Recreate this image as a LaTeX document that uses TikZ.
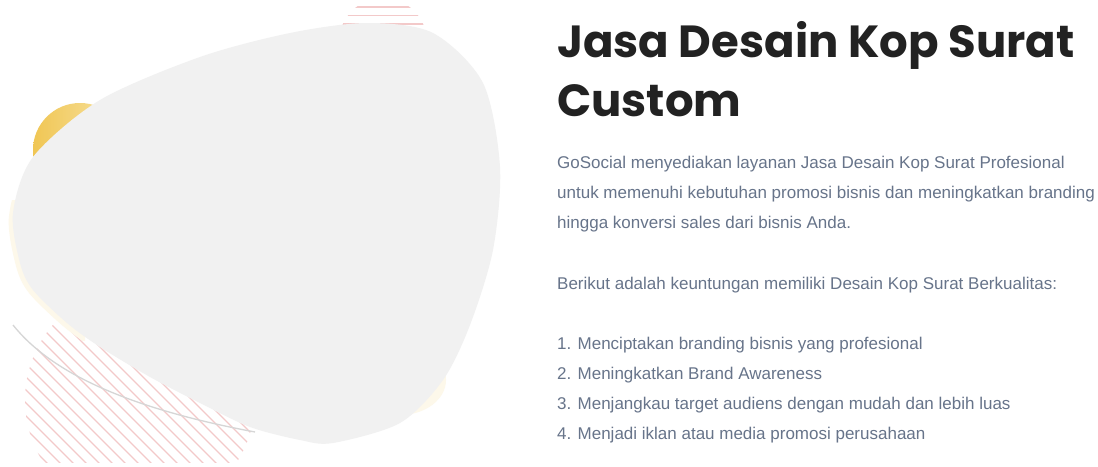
\documentclass[tikz,border=0pt]{standalone}
\usepackage{fontspec}
\newfontfamily\judulfont{Poppins}
\newfontfamily\isifont{Liberation Sans}
\usepackage{tikz}
\usetikzlibrary{positioning}
\definecolor{blobgray}{HTML}{F1F1F1}
\definecolor{krem}{HTML}{FDF8EA}
\definecolor{pinkline}{HTML}{F3C9C9}
\definecolor{kuning}{HTML}{F0C654}
\definecolor{kuningmuda}{HTML}{F8E4A6}
\definecolor{arcgray}{HTML}{D6D6D6}
\definecolor{teksgelap}{HTML}{222222}
\definecolor{teksabu}{HTML}{67748A}

\begin{document}
\begin{tikzpicture}[x=1pt,y=-1pt]
\tikzstyle{judul}=[anchor=base west,inner sep=0pt,text=teksgelap,font=\judulfont\bfseries\fontsize{45}{60}\selectfont]
\tikzstyle{isi}=[anchor=base west,inner sep=0pt,text=teksabu,font=\isifont\fontsize{17}{30}\selectfont]
\tikzstyle{hatch}=[pinkline,line width=1.1pt]
\def\blobpath{plot[smooth cycle] coordinates {(367,23) (433,33) (483,83) (500,167) (493,250) (470,325)
  (443,380) (400,423) (333,443) (300,440) (250,427) (200,403) (150,377) (100,347) (67,323) (33,290)
  (20,263) (13,213) (33,157) (100,100) (200,57) (290,33)}}
\useasboundingbox[fill=white] (0,0) rectangle (1098,466);

% hatched circles
\begin{scope}
  \clip (0,0) rectangle (300,462);
  \clip (140,400) circle (115);
  \foreach \d in {-260,-247,...,300}
    \draw[hatch] (\d,260) -- ++(260,260);
\end{scope}
\begin{scope}
  \clip (383,42) circle (44);
  \foreach \y in {7,15.5,...,90}
    \draw[hatch] (330,\y) -- (440,\y);
\end{scope}

% thin arc, yellow dot, cream rims and gray blob
\draw[arcgray,line width=1.3pt] (13,325) .. controls (45,365) and (110,405) .. (255,432);
\shade[left color=kuning,right color=kuningmuda] (80,150) circle (47);
\begin{scope}
  \clip (0,200) rectangle (85,340);
  \fill[krem,xshift=-4pt,yshift=-3pt] \blobpath;
\end{scope}
\fill[krem] (400,380) ellipse (46 and 35);
\fill[blobgray] \blobpath;

% text
\node[judul] (j1) at (557,57) {Jasa Desain Kop Surat};
\node[judul] (j2) at (j1.base west) [yshift=-59pt] {Custom};

\node[isi] (p1) at (557,168) {GoSocial menyediakan layanan Jasa Desain Kop Surat Profesional};
\node[isi] (p2) at (p1.base west) [yshift=-30pt] {untuk memenuhi kebutuhan promosi bisnis dan meningkatkan branding};
\node[isi] (p3) at (p2.base west) [yshift=-30pt] {hingga konversi sales dari bisnis Anda.};
\node[isi] (b1) at (p3.base west) [yshift=-61pt] {Berikut adalah keuntungan memiliki Desain Kop Surat Berkualitas:};
\node[isi] (l1) at (b1.base west) [yshift=-60pt] {1. Menciptakan branding bisnis yang profesional};
\node[isi] (l2) at (l1.base west) [yshift=-30pt] {2. Meningkatkan Brand Awareness};
\node[isi] (l3) at (l2.base west) [yshift=-30pt] {3. Menjangkau target audiens dengan mudah dan lebih luas};
\node[isi] (l4) at (l3.base west) [yshift=-30pt] {4. Menjadi iklan atau media promosi perusahaan};
\end{tikzpicture}
\end{document}
